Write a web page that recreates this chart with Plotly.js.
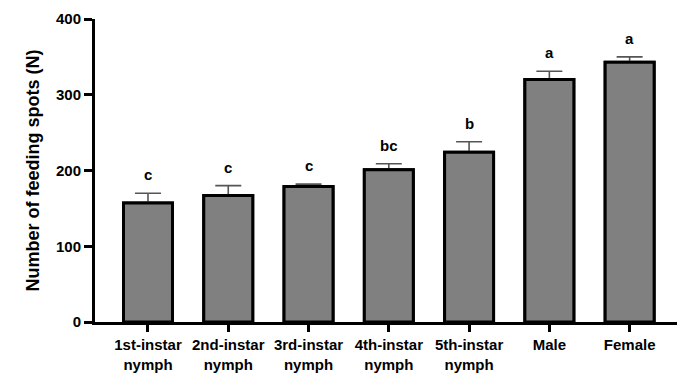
<!DOCTYPE html>
<html>
<head>
<meta charset="utf-8">
<script src="https://cdn.plot.ly/plotly-3.0.1.min.js"></script>
<style>html,body{margin:0;padding:0;background:#fff;}#chart{width:677px;height:374px;}</style>
</head>
<body>
<div id="chart"></div>
<script>
var categories = ["1st-instar<br>nymph", "2nd-instar<br>nymph", "3rd-instar<br>nymph", "4th-instar<br>nymph", "5th-instar<br>nymph", "Male", "Female"];
var means = [157, 167, 179, 201, 224, 320, 343];
var errors = [13, 13, 3, 8, 14, 11, 7];
var letters = ["c", "c", "c", "bc", "b", "a", "a"];
var yTicks = [0, 100, 200, 300, 400];

var xIdx = categories.map(function(_, i){ return i; });

var barStyle = {color: '#808080', line: {color: '#000', width: 3}};

var traceErr = {
  type: 'bar', x: xIdx, y: means, width: 0.61, marker: barStyle,
  error_y: {type: 'data', symmetric: false, array: errors, arrayminus: means.map(function(){return 0;}), color: '#555', thickness: 1.6, width: 13},
  hoverinfo: 'none'
};
var traceBars = {
  type: 'bar', x: xIdx, y: means, width: 0.61, marker: barStyle, hoverinfo: 'none'
};

var annotations = letters.map(function(t, i){
  return {x: i, y: means[i] + errors[i], xref: 'x', yref: 'y', text: t, showarrow: false,
          yanchor: 'bottom', yshift: 8, font: {family: 'Liberation Sans, Arial, sans-serif', size: 15, color: '#000', weight: 'bold'}};
});

var layout = {
  width: 677, height: 374,
  margin: {l: 95, r: 0, t: 19, b: 52},
  paper_bgcolor: '#fff', plot_bgcolor: '#fff',
  showlegend: false, barmode: 'overlay',
  font: {family: 'Liberation Sans, Arial, sans-serif', color: '#000'},
  xaxis: {
    range: [-0.66, 6.59], tickmode: 'array', tickvals: xIdx, ticktext: categories,
    showline: true, linecolor: '#000', linewidth: 3, ticks: 'outside', ticklen: 7, tickwidth: 3, tickcolor: '#000',
    showgrid: false, zeroline: false,
    tickfont: {size: 15, color: '#000', weight: 'bold'}
  },
  yaxis: {
    range: [0, 400], tickmode: 'array', tickvals: yTicks, ticktext: yTicks.map(String),
    showline: true, linecolor: '#000', linewidth: 3, ticks: 'outside', ticklen: 8, tickwidth: 3, tickcolor: '#000',
    showgrid: false, zeroline: false,
    tickfont: {size: 15, color: '#000', weight: 'bold'},
    title: {text: 'Number of feeding spots (N)', font: {size: 18, color: '#000', weight: 'bold'}, standoff: 12}
  },
  annotations: annotations
};

Plotly.newPlot('chart', [traceErr, traceBars], layout, {displayModeBar: false, staticPlot: true});
</script>
</body>
</html>
